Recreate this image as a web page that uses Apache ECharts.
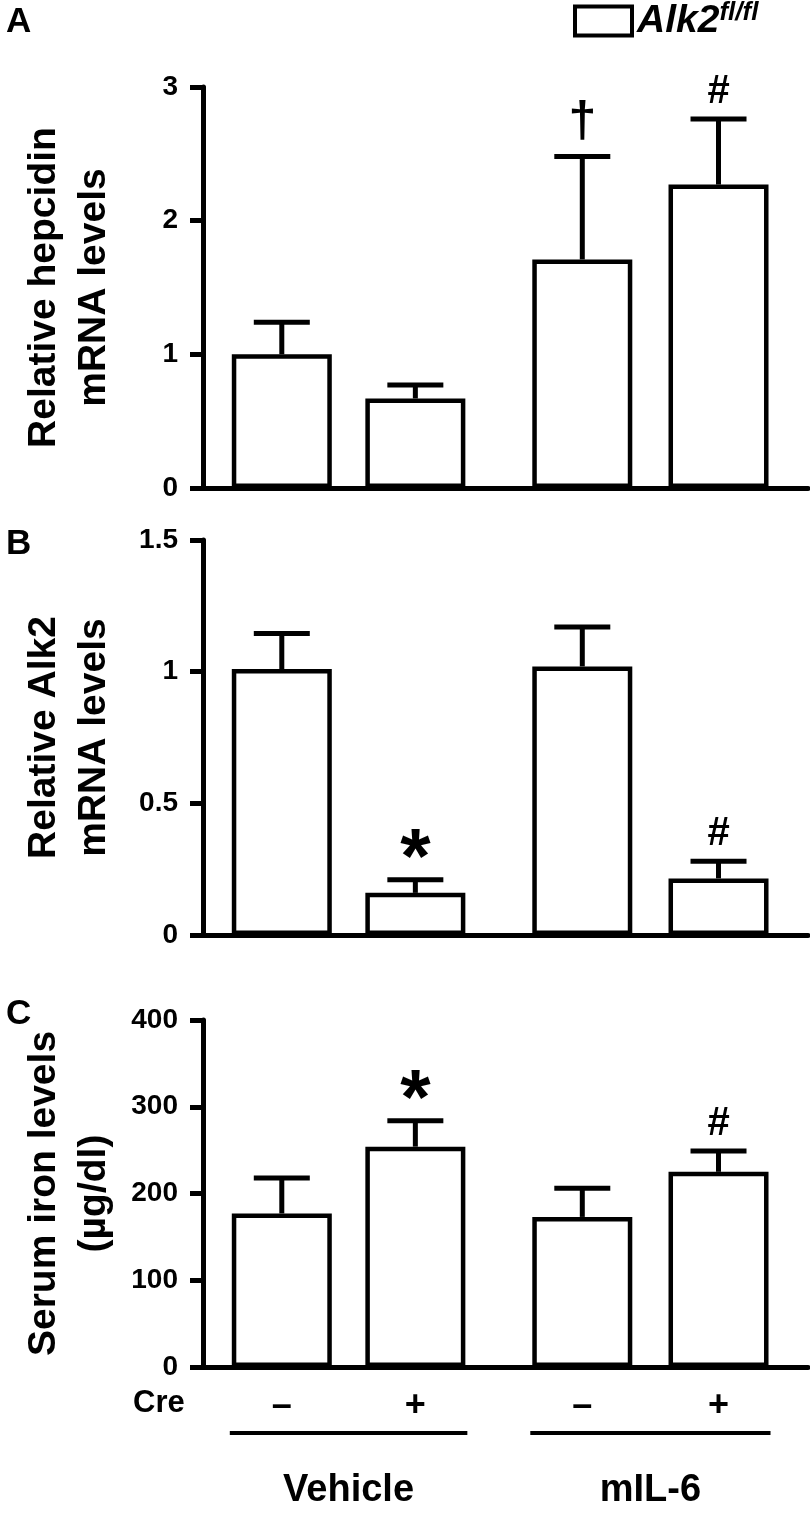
<!DOCTYPE html>
<html><head><meta charset="utf-8">
<script src="https://cdn.jsdelivr.net/npm/echarts@6/dist/echarts.min.js"></script>
<style>html,body{margin:0;padding:0;background:#fff}#c{width:810px;height:1519px}</style>
</head><body><div id="c"></div>
<script>
// ---- data ----
const positions = [1, 2, 3.25, 4.27];          // bar slots (gap between treatment groups)
const creLabels = ['\u2013', '+', '\u2013', '+'];
const groupNames = ['Vehicle', 'mIL-6'];
const groupSpans = [[1, 2], [3.25, 4.27]];

const hepcidin = [1.0, 0.67, 1.71, 2.27];
const hepcidinErr = [0.24, 0.10, 0.77, 0.49];
const hepcidinMarks = ['', '', '\u2020', '#'];
const hepcidinTicks = [0, 3, 1];

const alk2 = [1.01, 0.16, 1.02, 0.215];
const alk2Err = [0.135, 0.05, 0.15, 0.065];
const alk2Marks = ['', '*', '', '#'];
const alk2Ticks = [0, 1.5, 0.5];

const iron = [177, 254, 173, 225];
const ironErr = [41, 30, 33, 24];
const ironMarks = ['', '*', '', '#'];
const ironTicks = [0, 400, 100];

const legendName = 'Alk2';
const FONT = '"Liberation Sans", Arial, Helvetica, sans-serif';

const panels = [
  {vals: hepcidin, err: hepcidinErr, marks: hepcidinMarks, ticks: hepcidinTicks,
   title: 'Relative hepcidin\nmRNA levels', top: 87, height: 401, letter: 'A', letterTop: 5},
  {vals: alk2, err: alk2Err, marks: alk2Marks, ticks: alk2Ticks,
   title: 'Relative Alk2\nmRNA levels', top: 540, height: 395, letter: 'B', letterTop: 527},
  {vals: iron, err: ironErr, marks: ironMarks, ticks: ironTicks,
   title: 'Serum iron levels\n(\u00b5g/dl)', top: 1020, height: 347, letter: 'C', letterTop: 997}
];

const markStyle = {'#': {size: 40, off: 27}, '\u2020': {size: 50, off: 34}, '*': {size: 78, off: 18}};

const chart = echarts.init(document.getElementById('c'), null, {renderer: 'canvas'});

const grids = [], xAxes = [], yAxes = [], series = [], graphics = [];
panels.forEach((p, i) => {
  grids.push({left: 203, top: p.top, width: 605, height: p.height});
  const last = i === panels.length - 1;
  xAxes.push({
    type: 'value', gridIndex: i, min: 0.41, max: 4.94,
    axisLine: {show: true, onZero: false, lineStyle: {color: '#000', width: 5}},
    axisTick: {show: false}, splitLine: {show: false},
    axisLabel: last ? {
      show: true, customValues: positions, margin: 21,
      formatter: (v) => {
        let k = 0, d = Infinity;
        positions.forEach((q, j) => { if (Math.abs(q - v) < d) { d = Math.abs(q - v); k = j; } });
        return creLabels[k];
      },
      fontSize: 36, fontWeight: 'bold', color: '#000', fontFamily: FONT
    } : {show: false}
  });
  yAxes.push({
    type: 'value', gridIndex: i, min: p.ticks[0], max: p.ticks[1], interval: p.ticks[2],
    axisLine: {show: true, lineStyle: {color: '#000', width: 5}},
    axisTick: {show: true, length: 13, lineStyle: {color: '#000', width: 5}},
    splitLine: {show: false},
    axisLabel: {margin: 25, fontSize: 28, fontWeight: 'bold', color: '#000', fontFamily: FONT},
    name: p.title, nameLocation: 'middle', nameRotate: 90, nameGap: 84,
    nameTextStyle: {fontSize: 39, fontWeight: 'bold', color: '#000', fontFamily: FONT, lineHeight: 50, align: 'center'}
  });
  series.push({
    type: 'bar', name: legendName, xAxisIndex: i, yAxisIndex: i,
    barWidth: 100, data: p.vals.map((v, j) => [positions[j], v]),
    itemStyle: {color: '#fff', borderColor: '#000', borderWidth: 4.5},
    z: 3
  });
  series.push({
    type: 'custom', xAxisIndex: i, yAxisIndex: i, clip: false, z: 2,
    data: p.vals.map((v, j) => [positions[j], v, p.err[j]]),
    renderItem: (params, api) => {
      const x = api.value(0), v = api.value(1), e = api.value(2);
      const top = api.coord([x, v]);
      const cap = api.coord([x, v + e]);
      const children = [
        {type: 'line', shape: {x1: top[0], y1: top[1], x2: cap[0], y2: cap[1]}, style: {stroke: '#000', lineWidth: 5}},
        {type: 'line', shape: {x1: cap[0] - 28, y1: cap[1], x2: cap[0] + 28, y2: cap[1]}, style: {stroke: '#000', lineWidth: 5}}
      ];
      const m = p.marks[params.dataIndex];
      if (m) {
        const ms = markStyle[m];
        children.push({type: 'text', x: cap[0], y: cap[1] - ms.off,
          style: {text: m, fill: '#000', fontSize: ms.size, fontWeight: 'bold', fontFamily: FONT, align: 'center', verticalAlign: 'middle'}});
      }
      return {type: 'group', children};
    }
  });
  graphics.push({type: 'text', left: 6, top: p.letterTop,
    style: {text: p.letter, fill: '#000', fontSize: 35, fontWeight: 'bold', fontFamily: FONT}});
});

// group underlines and labels for the last panel
const lastIdx = panels.length - 1;
series.push({
  type: 'custom', xAxisIndex: lastIdx, yAxisIndex: lastIdx, clip: false, silent: true,
  data: groupSpans.map(s => [s[0], s[1]]),
  encode: {x: [0, 1]},
  renderItem: (params, api) => {
    const a = api.coord([api.value(0), 0]);
    const b = api.coord([api.value(1), 0]);
    const x1 = a[0] - 52, x2 = b[0] + 52, y = a[1] + 66;
    return {type: 'group', children: [
      {type: 'line', shape: {x1, y1: y, x2, y2: y}, style: {stroke: '#000', lineWidth: 4}},
      {type: 'text', x: (x1 + x2) / 2, y: y + 58,
        style: {text: groupNames[params.dataIndex], fill: '#000', fontSize: 38, fontWeight: 'bold', fontFamily: FONT, align: 'center', verticalAlign: 'middle'}}
    ]};
  }
});

graphics.push({type: 'text', left: 133, top: 1388,
  style: {text: 'Cre', fill: '#000', fontSize: 31, fontWeight: 'bold', fontFamily: FONT}});

chart.setOption({
  animation: false,
  backgroundColor: '#fff',
  grid: grids, xAxis: xAxes, yAxis: yAxes, series,
  graphic: graphics,
  legend: {
    data: [legendName], left: 573, top: 0, padding: 0, icon: 'rect', itemWidth: 57, itemHeight: 29,
    itemGap: 5,
    itemStyle: {color: '#fff', borderColor: '#000', borderWidth: 4},
    formatter: () => '{a|Alk2}{b|fl/fl}',
    textStyle: {rich: {
      a: {fontSize: 39, fontWeight: 'bold', fontStyle: 'italic', color: '#000', fontFamily: FONT},
      b: {fontSize: 26, fontWeight: 'bold', fontStyle: 'italic', color: '#000', fontFamily: FONT, verticalAlign: 'top', padding: [0, 0, 16, 0]}
    }}
  }
});
</script></body></html>
